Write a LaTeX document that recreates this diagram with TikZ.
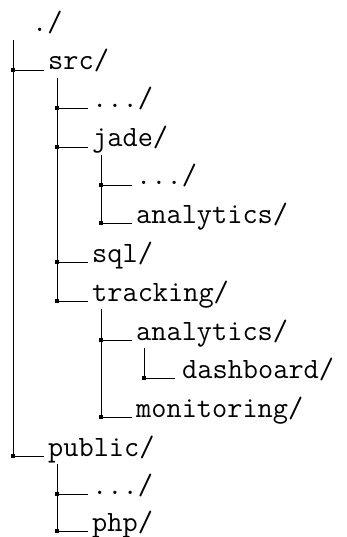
\documentclass[tikz,border=0pt]{standalone}
\begin{document}
\begin{tikzpicture}[x=1pt,y=1pt,
  entry/.style={anchor=base west, inner sep=0pt, font=\fontsize{29.5}{35}\selectfont\ttfamily},
  branch/.style={line width=0.8pt, black},
  knot/.style={fill=black, rectangle, minimum size=3.8pt, inner sep=0pt}]
\useasboundingbox (0,0) rectangle (347,-537);

% directory entries (base west at the start of the name)
\node[entry] (root)       at (32,-32)  {./};
\node[entry] (src)        at (48,-70)  {src/};
\node[entry] (srcdots)    at (92,-108) {.../};
\node[entry] (jade)       at (92,-147) {jade/};
\node[entry] (jadedots)   at (136,-185){.../};
\node[entry] (jadeana)    at (136,-223){analytics/};
\node[entry] (sql)        at (92,-262) {sql/};
\node[entry] (tracking)   at (92,-301) {tracking/};
\node[entry] (trackana)   at (136,-340){analytics/};
\node[entry] (dashboard)  at (182,-378){dashboard/};
\node[entry] (monitoring) at (136,-417){monitoring/};
\node[entry] (public)     at (48,-456) {public/};
\node[entry] (pubdots)    at (92,-494) {.../};
\node[entry] (php)        at (92,-531) {php/};

% trunk tops, hanging below each parent
\coordinate (t-root)     at ([shift={(-19,-8)}]root.base west);
\coordinate (t-src)      at ([shift={(9,-8)}]src.base west);
\coordinate (t-jade)     at ([shift={(9,-8)}]jade.base west);
\coordinate (t-tracking) at ([shift={(9,-8)}]tracking.base west);
\coordinate (t-trackana) at ([shift={(8,-8)}]trackana.base west);
\coordinate (t-public)   at ([shift={(9,-8)}]public.base west);

% branches from each trunk to its children
\foreach \p/\c/\g in {root/src/4, root/public/4,
                   src/srcdots/4, src/jade/4, src/sql/4, src/tracking/4,
                   jade/jadedots/4, jade/jadeana/4,
                   tracking/trackana/4, tracking/monitoring/4,
                   trackana/dashboard/7,
                   public/pubdots/4, public/php/4}{
  \draw[branch] (t-\p) |- ([xshift=-\g]\c.base west);
  \node[knot] at (t-\p |- \c.base west) {};
}
\end{tikzpicture}
\end{document}
